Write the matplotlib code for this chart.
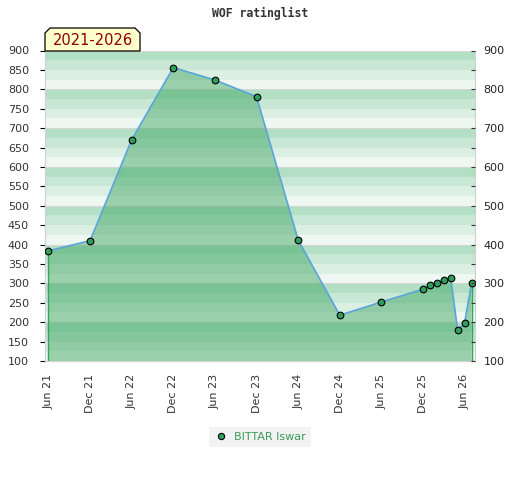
import matplotlib
matplotlib.use("Agg")
import matplotlib.pyplot as plt
from matplotlib.patches import Polygon
from matplotlib.lines import Line2D

# data: months counted from Jun 2021
months = [0, 6, 12, 18, 24, 30, 36, 42, 48, 54, 55, 56, 57, 58, 59, 60, 61]
ratings = [384, 410, 670, 856, 824, 781, 412, 218, 252, 285, 296, 301, 308, 314, 179, 198, 300]
tick_months = [0, 6, 12, 18, 24, 30, 36, 42, 48, 54, 60]
tick_labels = ["Jun 21", "Dec 21", "Jun 22", "Dec 22", "Jun 23", "Dec 23",
               "Jun 24", "Dec 24", "Jun 25", "Dec 25", "Jun 26"]
player = "BITTAR Iswar"
period = "2021-2026"
title = "WOF ratinglist"

W, H = 520, 480
fig = plt.figure(figsize=(W / 100, H / 100), dpi=100)
ax = fig.add_axes([45 / W, (H - 361) / H, 430 / W, 310.5 / H])

ymin, ymax = 100, 900
ax.set_xlim(-0.5, 61.5)
ax.set_ylim(ymin, ymax)

# striped background, 4 shades per 100
shades = ["#eef7f1", "#dcefe3", "#c8e7d4", "#b3dfc4"]
for i, lo in enumerate(range(ymin, ymax, 25)):
    ax.axhspan(lo, lo + 25, color=shades[i % 4], lw=0, zorder=0)
for v in range(ymin, ymax + 1, 100):
    ax.axhline(v, color="#d6d6d6", lw=0.8, zorder=0.5)

ax.fill_between(months, ratings, ymin, facecolor=(55 / 255, 162 / 255, 92 / 255),
                alpha=0.46, lw=0, zorder=1)
ax.plot([months[0], months[0]], [ymin, ratings[0]], color="#30a855", lw=1, zorder=1.5)
ax.plot([months[-1], months[-1]], [ymin, ratings[-1]], color="#30a855", lw=1, zorder=1.5)
ax.plot(months, ratings, color="#5aa5dc", lw=1.2, zorder=2)
ax.plot(months, ratings, ls="none", marker="o", ms=4.8, mfc="#2f9e5c", mec="black",
        mew=0.8, zorder=3)

# axes styling
for s in ["left", "bottom", "right"]:
    ax.spines[s].set_color("#d0d0d0")
ax.spines["top"].set_visible(False)

ax.set_yticks(range(ymin, ymax + 1, 50))
ax.tick_params(axis="y", left=False, labelsize=8, labelcolor="#333333", pad=8)
ax.set_xticks(tick_months)
ax.set_xticklabels(tick_labels, rotation=90)
ax.tick_params(axis="x", bottom=False, labelsize=8, labelcolor="#333333", pad=6)

ax2 = ax.twinx()
ax2.set_ylim(ymin, ymax)
ax2.set_yticks(range(ymin, ymax + 1, 50))
ax2.set_yticklabels([str(v) if v % 100 == 0 else "" for v in range(ymin, ymax + 1, 50)])
ax2.tick_params(axis="y", direction="in", length=3, color="#333333",
                labelsize=8, labelcolor="#222222", pad=6)
for s in ax2.spines.values():
    s.set_visible(False)

fig.text(260 / W, 1 - 13 / H, title, ha="center", va="center",
         family="DejaVu Sans Mono", fontweight="bold", fontsize=8.3, color="#333333")

# period tag with clipped corners
x0, x1, y0, y1, c = 45, 140, 28, 51, 5
pts = [(x0, y1), (x0, y0 + c), (x0 + c, y0), (x1 - c, y0), (x1, y0 + c), (x1, y1)]
pts = [(px / W, 1 - py / H) for px, py in pts]
fig.add_artist(Polygon(pts, closed=True, transform=fig.transFigure,
                       facecolor="#ffffcc", edgecolor="black", lw=0.9, zorder=5))
fig.text(92.5 / W, 1 - 40.5 / H, period, ha="center", va="center",
         fontsize=10.5, color="#8b0000", zorder=6)

# legend
leg = fig.legend(handles=[Line2D([], [], ls="none", marker="o", ms=4.5, mfc="#2f9e5c",
                                 mec="black", mew=0.8, label=player)],
                 loc="center", bbox_to_anchor=(260 / W, 1 - 437 / H), frameon=True,
                 fontsize=8, handletextpad=0.6, handlelength=1.2, borderpad=0.45,
                 fancybox=False)
leg.get_frame().set_facecolor("#f0f0f0")
leg.get_frame().set_edgecolor("none")
for t in leg.get_texts():
    t.set_color("#3a9a5a")

fig.savefig("out.png", dpi=100)
